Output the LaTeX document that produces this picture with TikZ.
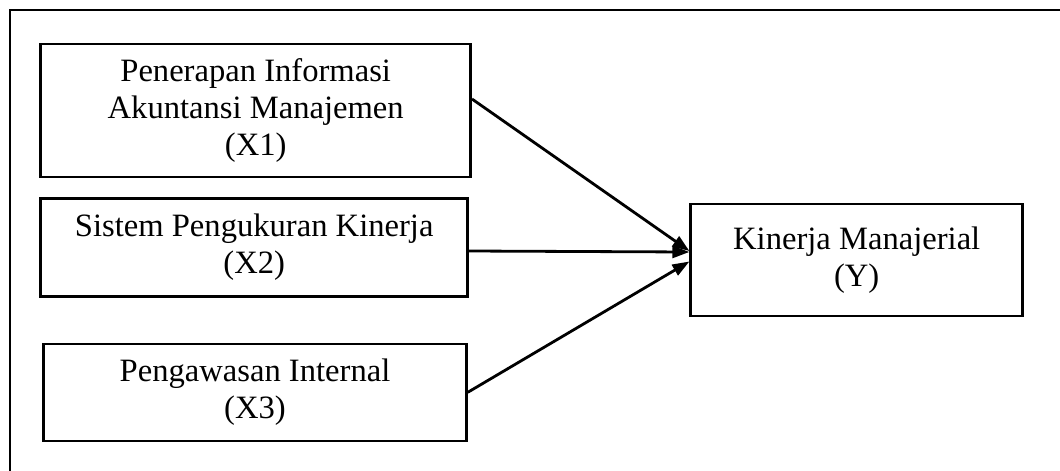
\documentclass[tikz,border=0pt]{standalone}
\usepackage{fontspec}
\setmainfont{Liberation Serif}
\usetikzlibrary{arrows.meta,positioning}

\begin{document}
\begin{tikzpicture}[
    x=1pt, y=-1pt,
    >={Triangle[length=17pt,width=12pt]},
    varbox/.style={
      draw, line width=2.6pt, align=center, inner sep=0pt,
      font=\fontsize{32.6}{37}\selectfont,
    },
    path/.style={->, line width=2.8pt},
  ]
  \useasboundingbox (0,0) rectangle (1060,471);

  % outer frame (runs off the page at right and bottom)
  \draw[line width=2.6pt] (1090,10) -- (10,10) -- (10,500);

  % =================== Independent variables ===================
  \node[varbox, minimum width=430pt, minimum height=133pt] (x1) at (255.7,110.3)
    {Penerapan Informasi\\Akuntansi Manajemen\\(X1)};
  \node[varbox, minimum width=427pt, minimum height=98pt] (x2) at (254.2,247.5)
    {Sistem Pengukuran Kinerja\\(X2)};
  \node[varbox, minimum width=423pt, minimum height=97pt] (x3) at (255,392.3)
    {Pengawasan Internal\\(X3)};

  % =================== Dependent variable ===================
  \node[varbox, minimum width=332pt, minimum height=112pt] (y) at (856.7,260)
    {Kinerja Manajerial\\(Y)};

  % Paths
  \draw[path] ([yshift=11.3pt]x1.east) -- ([yshift=9pt]y.west);
  \draw[path] ([yshift=-3.5pt]x2.east) -- ([yshift=8pt]y.west);
  \draw[path] (x3.east) -- ([yshift=-1.5pt]y.west);

\end{tikzpicture}
\end{document}
